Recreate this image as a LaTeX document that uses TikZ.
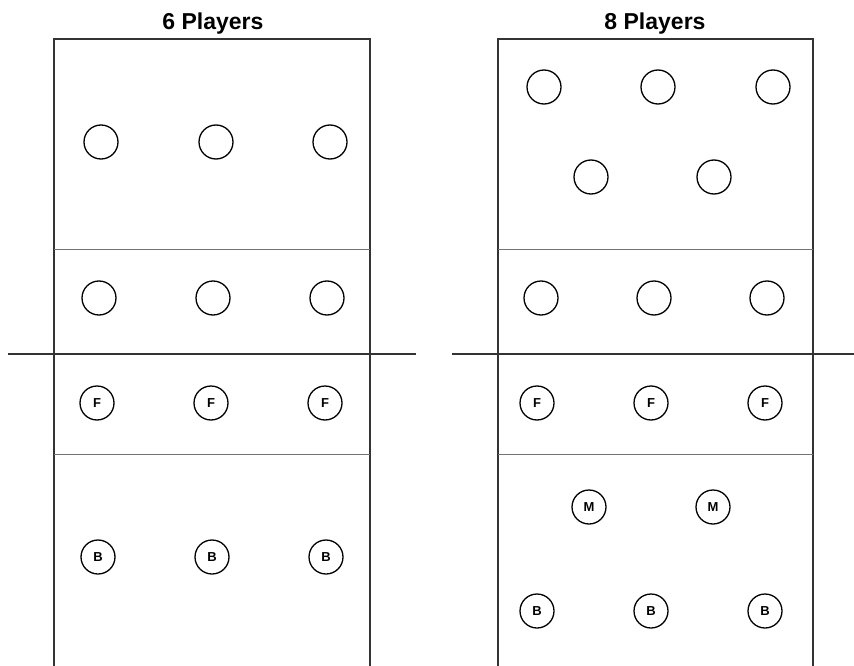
\documentclass[tikz,border=0pt]{standalone}
\usepackage{fontspec}
\setmainfont{Liberation Sans}
\begin{document}
\begin{tikzpicture}[x=1pt,y=-1pt,
  court/.style={draw=black!80,line width=1.6pt},
  zone/.style={draw=black!55,line width=0.9pt},
  netline/.style={draw=black!80,line width=1.4pt},
  player/.style={circle,draw=black,line width=1.3pt,minimum size=34pt,inner sep=0pt},
  tagged/.style={player,font=\bfseries\fontsize{13}{13}\selectfont},
  title/.style={font=\bfseries\fontsize{23}{23}\selectfont}]
\useasboundingbox (0,0) rectangle (854,666);
\clip (0,0) rectangle (854,666);
% titles
\node[title] (t6) at (213,24) {6 Players};
\node[title] (t8) at (655,24) {8 Players};
% left court
\draw[court] (54,670) -- (54,39) -- (370,39) -- (370,670);
\draw[zone] (54,249) -- (370,249);
\draw[zone] (54,454) -- (370,454);
\draw[netline] (8,354) -- (416,354);
% right court
\draw[court] (498,670) -- (498,39) -- (813,39) -- (813,670);
\draw[zone] (498,249) -- (813,249);
\draw[zone] (498,454) -- (813,454);
\draw[netline] (452,354) -- (854,354);
% left players
\node[player] (l1) at (101,142) {};
\node[player] (l2) at (216,142) {};
\node[player] (l3) at (330,142) {};
\node[player] (l4) at (99,298) {};
\node[player] (l5) at (213,298) {};
\node[player] (l6) at (327,298) {};
\node[tagged] (lf1) at (97,403) {F};
\node[tagged] (lf2) at (211,403) {F};
\node[tagged] (lf3) at (325,403) {F};
\node[tagged] (lb1) at (98,557) {B};
\node[tagged] (lb2) at (212,557) {B};
\node[tagged] (lb3) at (326,557) {B};
% right players
\node[player] (r1) at (544,87) {};
\node[player] (r2) at (658,87) {};
\node[player] (r3) at (773,87) {};
\node[player] (r4) at (591,177) {};
\node[player] (r5) at (714,177) {};
\node[player] (r6) at (541,298) {};
\node[player] (r7) at (654,298) {};
\node[player] (r8) at (767,298) {};
\node[tagged] (rf1) at (537,403) {F};
\node[tagged] (rf2) at (651,403) {F};
\node[tagged] (rf3) at (765,403) {F};
\node[tagged] (rm1) at (589,507) {M};
\node[tagged] (rm2) at (713,507) {M};
\node[tagged] (rb1) at (537,611) {B};
\node[tagged] (rb2) at (651,611) {B};
\node[tagged] (rb3) at (765,611) {B};
\end{tikzpicture}
\end{document}
